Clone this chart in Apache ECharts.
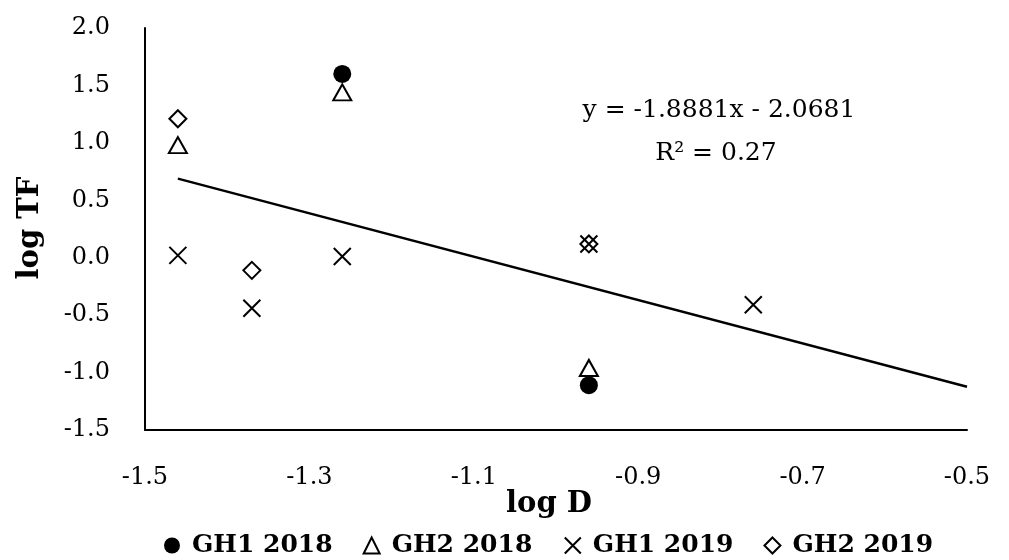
<!DOCTYPE html>
<html>
<head>
<meta charset="utf-8">
<script src="https://cdn.jsdelivr.net/npm/echarts@6/dist/echarts.min.js"></script>
<style>html,body{margin:0;padding:0;background:#fff}#c{width:1009px;height:560px}</style>
</head>
<body>
<div id="c"></div>
<script>
const seriesNames = ['GH1 2018', 'GH2 2018', 'GH1 2019', 'GH2 2019'];
const gh1_2018 = [[-1.26, 1.60], [-0.96, -1.11]];
const gh2_2018 = [[-1.46, 0.98], [-1.26, 1.44], [-0.96, -0.96]];
const gh1_2019 = [[-1.46, 0.02], [-1.37, -0.44], [-1.26, 0.01], [-0.96, 0.12], [-0.76, -0.41]];
const gh2_2019 = [[-1.46, 1.21], [-1.37, -0.11], [-0.96, 0.12]];
const trendSlope = -1.8881;
const trendIntercept = -2.0681;
const trendX = [-1.46, -0.5];
const trendLabel = ['y = -1.8881x - 2.0681', 'R² = 0.27'];
const axisTitles = { x: 'log D', y: 'log TF' };

const FONT = 'DejaVu Serif';
const crossPath = 'path://M0 0 L10 10 M10 0 L0 10';
const trendData = trendX.map(x => [x, trendSlope * x + trendIntercept]);

const chart = echarts.init(document.getElementById('c'));
chart.setOption({
  animation: false,
  backgroundColor: '#fff',
  grid: { left: 145, right: 42, top: 28, bottom: 130 },
  xAxis: {
    type: 'value', min: -1.5, max: -0.5, interval: 0.2,
    axisLine: { show: true, onZero: false, lineStyle: { color: '#000', width: 2 } },
    axisTick: { show: false },
    splitLine: { show: false },
    axisLabel: { fontFamily: FONT, fontSize: 24, color: '#000', margin: 36,
      formatter: v => v.toFixed(1) }
  },
  yAxis: {
    type: 'value', min: -1.5, max: 2.0, interval: 0.5,
    axisLine: { show: true, onZero: false, lineStyle: { color: '#000', width: 2 } },
    axisTick: { show: false },
    splitLine: { show: false },
    axisLabel: { fontFamily: FONT, fontSize: 24, color: '#000', margin: 35,
      formatter: v => v.toFixed(1) }
  },
  legend: {
    top: 533, left: 164, padding: 0, itemGap: 30, itemWidth: 16, itemHeight: 16,
    textStyle: { fontFamily: FONT, fontWeight: 'bold', fontSize: 25, color: '#000',
      padding: [0, 0, 0, 7] },
    data: [
      { name: seriesNames[0], icon: 'circle' },
      { name: seriesNames[1], icon: 'triangle' },
      { name: seriesNames[2], icon: crossPath },
      { name: seriesNames[3], icon: 'diamond' }
    ]
  },
  graphic: [
    { type: 'text', x: 30, y: 228, rotation: Math.PI / 2,
      style: { text: axisTitles.y, font: 'bold 29px "DejaVu Serif"', fill: '#000',
        textAlign: 'center', textVerticalAlign: 'middle' } },
    { type: 'text', x: 549, y: 504,
      style: { text: axisTitles.x, font: 'bold 29px "DejaVu Serif"', fill: '#000',
        textAlign: 'center', textVerticalAlign: 'middle' } },
    { type: 'text', x: 719, y: 110,
      style: { text: trendLabel[0], font: '25px "DejaVu Serif"', fill: '#000',
        textAlign: 'center', textVerticalAlign: 'middle' } },
    { type: 'text', x: 716, y: 153,
      style: { text: trendLabel[1], font: '25px "DejaVu Serif"', fill: '#000',
        textAlign: 'center', textVerticalAlign: 'middle' } }
  ],
  series: [
    { name: 'trend', type: 'line', data: trendData, symbol: 'none', silent: true,
      lineStyle: { color: '#000', width: 2.5 }, z: 1 },
    { name: seriesNames[0], type: 'scatter', data: gh1_2018, symbol: 'circle', symbolSize: 18,
      itemStyle: { color: '#000', opacity: 1 }, z: 3 },
    { name: seriesNames[1], type: 'scatter', data: gh2_2018, symbol: 'triangle', symbolSize: [18, 16],
      itemStyle: { color: '#fff', borderColor: '#000', borderWidth: 2, opacity: 1 }, z: 2 },
    { name: seriesNames[2], type: 'scatter', data: gh1_2019, symbol: crossPath, symbolSize: 17,
      itemStyle: { color: 'none', borderColor: '#000', borderWidth: 2, opacity: 1 }, z: 2 },
    { name: seriesNames[3], type: 'scatter', data: gh2_2019, symbol: 'diamond', symbolSize: [17, 17],
      itemStyle: { color: 'rgba(0,0,0,0)', borderColor: '#000', borderWidth: 2, opacity: 1 }, z: 2 }
  ]
});
</script>
</body>
</html>
